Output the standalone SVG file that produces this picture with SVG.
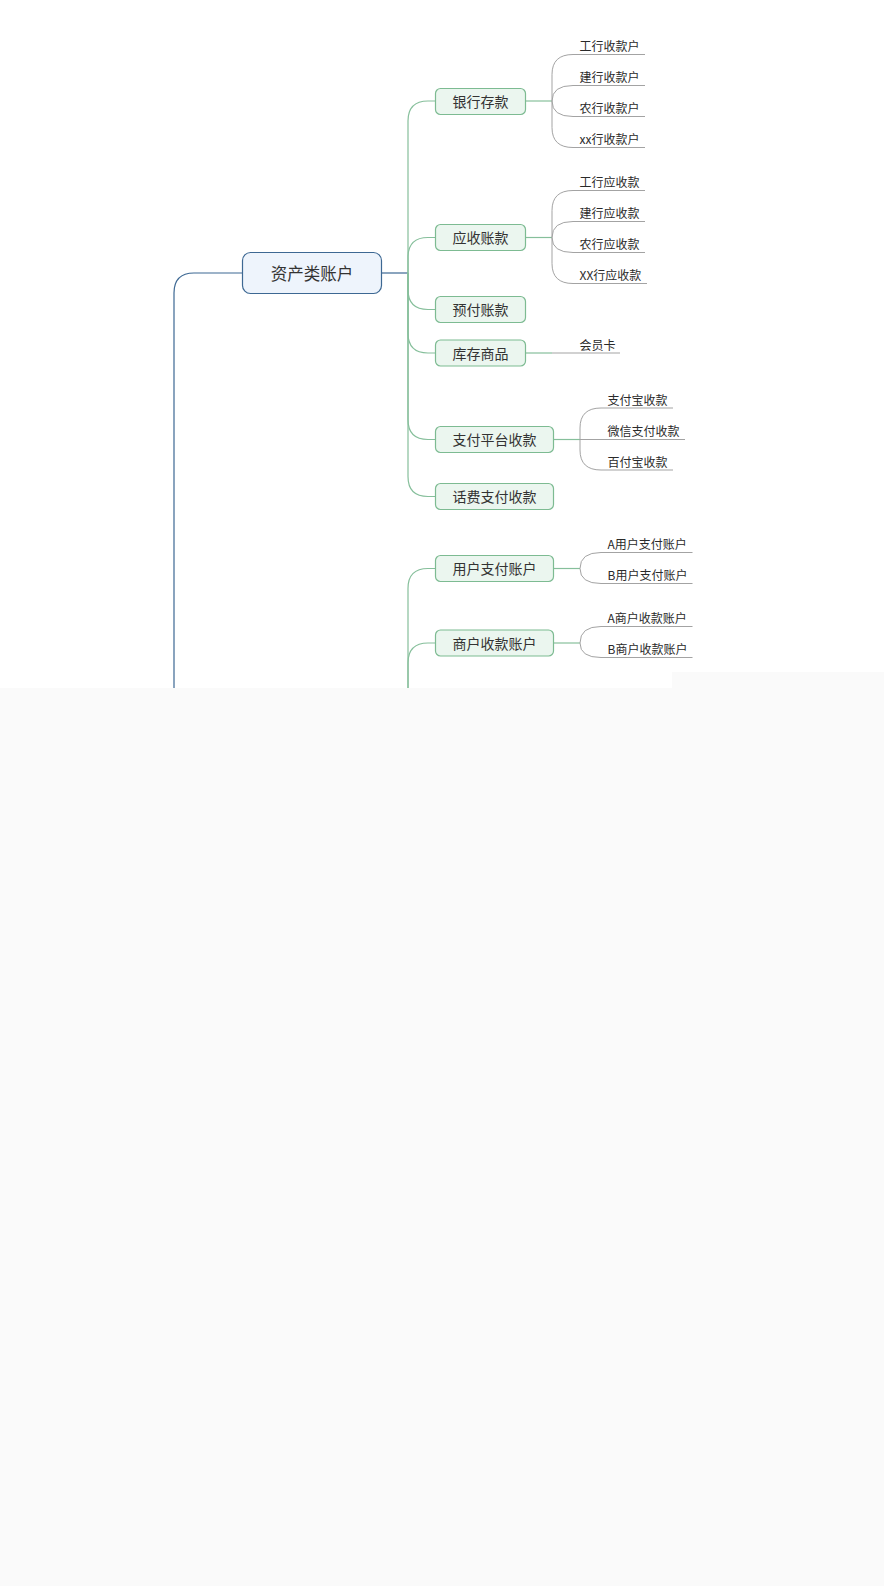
<svg xmlns="http://www.w3.org/2000/svg" width="884" height="1586" viewBox="0 0 884 1586">
<style>
.root rect{fill:#eef4fc;stroke:#3d6893;stroke-width:1.2}
.topic rect{fill:#ebf6ef;stroke:#7dbb92;stroke-width:1.2}
.root text{font-family:"Noto Sans CJK SC","Liberation Sans",sans-serif;font-size:16.5px;fill:#333;text-anchor:middle}
.topic text{font-family:"Noto Sans CJK SC","Liberation Sans",sans-serif;font-size:14px;fill:#333;text-anchor:middle}
.leaf text{font-family:"Noto Sans CJK SC","Liberation Sans",sans-serif;font-size:12px;fill:#2a2a2a}
.blue{fill:none;stroke:#3d6893;stroke-width:1.2}
.green{fill:none;stroke:#86bf9b;stroke-width:1.2}
.gray{fill:none;stroke:#a3a3a3;stroke-width:1}
</style>
<rect x="0" y="0" width="884" height="1586" fill="#ffffff"/>
<rect x="0" y="688" width="884" height="898" fill="#fafafa"/>
<rect x="672" y="672" width="212" height="16" fill="#fafafa"/>

<g id="connectors">
  <path class="blue" d="M174 688 V293 Q174 273 194 273 H242.5"/>
  <path class="blue" d="M381.5 273 H408"/>
  <path class="green" d="M408 273 V121 Q408 101 428 101 H435.5"/>
  <path class="green" d="M408 273 V257.5 Q408 237.5 428 237.5 H435.5"/>
  <path class="green" d="M408 273 V289.5 Q408 309.5 428 309.5 H435.5"/>
  <path class="green" d="M408 273 V333 Q408 353 428 353 H435.5"/>
  <path class="green" d="M408 273 V419.5 Q408 439.5 428 439.5 H435.5"/>
  <path class="green" d="M408 273 V476.5 Q408 496.5 428 496.5 H435.5"/>
  <path class="green" d="M408 688 V588.5 Q408 568.5 428 568.5 H435.5"/>
  <path class="green" d="M408 688 V663 Q408 643 428 643 H435.5"/>
  <path class="green" d="M525.5 101 H552"/>
  <path class="green" d="M525.5 237.5 H552"/>
  <path class="green" d="M525.5 353 H552"/>
  <path class="green" d="M553.5 439.5 H580"/>
  <path class="green" d="M553.5 568.5 H580"/>
  <path class="green" d="M553.5 643 H580"/>
  <path class="gray" d="M552 101 V74.5 Q552 54.5 573 54.5 H645"/>
  <path class="gray" d="M552 101 Q552 85.5 573 85.5 H645"/>
  <path class="gray" d="M552 101 Q552 116.5 573 116.5 H645"/>
  <path class="gray" d="M552 101 V127.5 Q552 147.5 573 147.5 H645"/>
  <path class="gray" d="M552 237.5 V210.5 Q552 190.5 573 190.5 H645"/>
  <path class="gray" d="M552 237.5 Q552 221.5 573 221.5 H645"/>
  <path class="gray" d="M552 237.5 Q552 252.5 573 252.5 H645"/>
  <path class="gray" d="M552 237.5 V263.5 Q552 283.5 573 283.5 H647"/>
  <path class="gray" d="M552 353 H620"/>
  <path class="gray" d="M580 439.5 V428 Q580 408 601 408 H673"/>
  <path class="gray" d="M580 439.5 H685"/>
  <path class="gray" d="M580 439.5 V450 Q580 470 601 470 H673"/>
  <path class="gray" d="M580 568.5 Q580 552.5 601 552.5 H692.5"/>
  <path class="gray" d="M580 568.5 Q580 583.5 601 583.5 H692.5"/>
  <path class="gray" d="M580 643 Q580 626.5 601 626.5 H692.5"/>
  <path class="gray" d="M580 643 Q580 657.5 601 657.5 H692.5"/>
</g>

<g id="root-assets" class="root">
  <rect x="242.5" y="252.5" width="139" height="41" rx="8"/>
  <text x="312" y="279.5">资产类账户</text>
</g>

<g id="topic-bank" class="topic"><rect x="435.5" y="88.5" width="90" height="26" rx="5"/><text x="480.5" y="106.5">银行存款</text></g>
<g id="topic-receivable" class="topic"><rect x="435.5" y="224.5" width="90" height="26" rx="5"/><text x="480.5" y="243">应收账款</text></g>
<g id="topic-prepaid" class="topic"><rect x="435.5" y="296.5" width="90" height="26" rx="5"/><text x="480.5" y="315">预付账款</text></g>
<g id="topic-stock" class="topic"><rect x="435.5" y="340" width="90" height="26" rx="5"/><text x="480.5" y="358.5">库存商品</text></g>
<g id="topic-payplatform" class="topic"><rect x="435.5" y="426.5" width="118" height="26" rx="5"/><text x="494.5" y="445">支付平台收款</text></g>
<g id="topic-phonepay" class="topic"><rect x="435.5" y="483.5" width="118" height="26" rx="5"/><text x="494.5" y="502">话费支付收款</text></g>
<g id="topic-userpay" class="topic"><rect x="435.5" y="555.5" width="118" height="26" rx="5"/><text x="494.5" y="574">用户支付账户</text></g>
<g id="topic-merchant" class="topic"><rect x="435.5" y="630" width="118" height="26" rx="5"/><text x="494.5" y="648.5">商户收款账户</text></g>

<g id="leaf-icbc-in" class="leaf"><text x="579.5" y="51.3">工行收款户</text></g>
<g id="leaf-ccb-in" class="leaf"><text x="579.5" y="82.3">建行收款户</text></g>
<g id="leaf-abc-in" class="leaf"><text x="579.5" y="113.3">农行收款户</text></g>
<g id="leaf-xx-in" class="leaf"><text x="579.5" y="144.3">xx行收款户</text></g>
<g id="leaf-icbc-ar" class="leaf"><text x="579.5" y="187.3">工行应收款</text></g>
<g id="leaf-ccb-ar" class="leaf"><text x="579.5" y="218.3">建行应收款</text></g>
<g id="leaf-abc-ar" class="leaf"><text x="579.5" y="249.3">农行应收款</text></g>
<g id="leaf-xx-ar" class="leaf"><text x="579.5" y="280.3">XX行应收款</text></g>
<g id="leaf-card" class="leaf"><text x="579.5" y="349.8">会员卡</text></g>
<g id="leaf-alipay" class="leaf"><text x="607.5" y="404.8">支付宝收款</text></g>
<g id="leaf-wechat" class="leaf"><text x="607.5" y="435.8">微信支付收款</text></g>
<g id="leaf-baifubao" class="leaf"><text x="607.5" y="466.8">百付宝收款</text></g>
<g id="leaf-user-a" class="leaf"><text x="607.5" y="549.3">A用户支付账户</text></g>
<g id="leaf-user-b" class="leaf"><text x="607.5" y="580.3">B用户支付账户</text></g>
<g id="leaf-merchant-a" class="leaf"><text x="607.5" y="623.3">A商户收款账户</text></g>
<g id="leaf-merchant-b" class="leaf"><text x="607.5" y="654.3">B商户收款账户</text></g>
</svg>
